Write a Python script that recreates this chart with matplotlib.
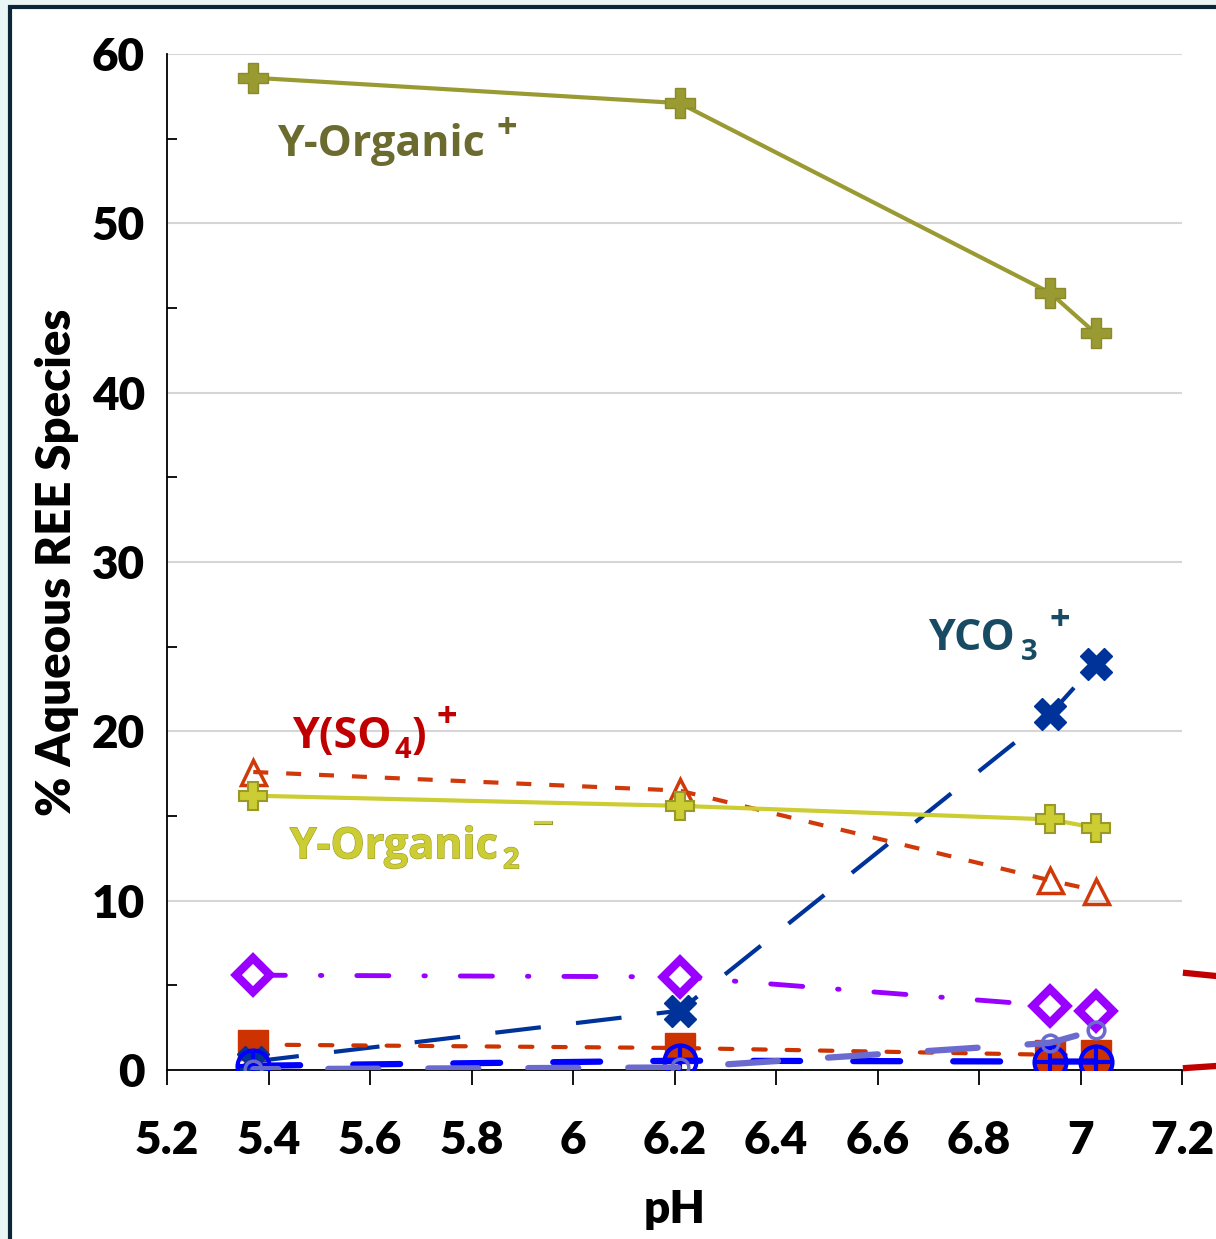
import numpy as np
import matplotlib.pyplot as plt
import matplotlib.patheffects as pe
from matplotlib.lines import Line2D
from matplotlib.patches import Rectangle
from matplotlib.ticker import FixedLocator

## Dati
ph = [5.37, 6.21, 6.94, 7.03]
y_org1 = [58.6, 57.1, 45.9, 43.5]      # Y-Organic+
y_org2 = [16.2, 15.6, 14.8, 14.3]      # Y-Organic2-
y_so4 = [17.6, 16.5, 11.2, 10.6]       # Y(SO4)+
y_co3 = [0.5, 3.5, 21.0, 24.0]         # YCO3+
y_diam = [5.6, 5.5, 3.8, 3.5]
y_sq = [1.5, 1.3, 0.9, 0.9]
y_blue = [0.25, 0.55, 0.5, 0.5]
y_slate = [0.05, 0.15, 1.6, 2.35]

xticks = [5.2, 5.4, 5.6, 5.8, 6.0, 6.2, 6.4, 6.6, 6.8, 7.0, 7.2]
xticklabels = ['5.2', '5.4', '5.6', '5.8', '6', '6.2', '6.4', '6.6', '6.8', '7', '7.2']
yticks = [0, 10, 20, 30, 40, 50, 60]

FONT = 'Lato'
FW = 800
LBL = 'Open Sans'

fig = plt.figure(figsize=(12.16, 12.39), dpi=100, facecolor='#EAF6F6')
W, H = 1216, 1239
# cornice
fig.add_artist(Rectangle((10 / W, -0.05), 1.2, (H - 7) / H + 0.05, transform=fig.transFigure,
                         facecolor='white', edgecolor='#0D2538', lw=3, zorder=0))

ax = fig.add_axes([167 / W, 1 - 1070 / H, (1182 - 167) / W, (1070 - 54) / H])
ax.set_facecolor('none')
ax.set_xlim(5.2, 7.2)
ax.set_ylim(0, 60)

for s in ['top', 'right']:
    ax.spines[s].set_visible(False)
for s in ['left', 'bottom']:
    ax.spines[s].set_linewidth(1.3)
ax.set_axisbelow(True)
ax.yaxis.grid(True, color='#D6D6D6', lw=1.5)

ax.set_xticks(xticks)
ax.set_xticklabels(xticklabels, fontsize=33, fontweight=FW, family=FONT)
ax.set_yticks(yticks)
ax.set_yticklabels([str(v) for v in yticks], fontsize=33, fontweight=FW, family=FONT)
ax.yaxis.set_minor_locator(FixedLocator([5, 15, 25, 35, 45, 55]))
ax.tick_params(axis='x', direction='out', length=11, width=1.3, pad=25)
ax.tick_params(axis='y', which='major', length=0, pad=16)
ax.tick_params(axis='y', which='minor', direction='in', length=7, width=1.3)
ax.set_xlabel('pH', fontsize=33, fontweight=FW, family=FONT, labelpad=20)
ax.set_ylabel('% Aqueous REE Species', fontsize=34, fontweight=FW, family=FONT, labelpad=9)

# serie
ax.plot(ph, y_org1, '-', color='#9A9A33', lw=3, marker='P', ms=22,
        mfc='#9A9A33', mec='#8A8A2A', zorder=5)
ax.plot(ph, y_org2, '-', color='#CCCC33', lw=3, marker='P', ms=20,
        mfc='#CCCC33', mec='#99992A', mew=1.5, zorder=5)
ax.plot(ph, y_so4, color='#D03A0A', lw=3, ls=(0, (3.6, 4.3)), marker='^', ms=18,
        mfc='none', mec='#D03A0A', mew=2.5, zorder=4)
ax.plot(ph, y_co3, color='#003399', lw=3, ls=(0, (11, 8.5)), zorder=4)
ax.plot(ph, y_co3, 'X', ms=23, color='#003399', zorder=6)
ax.plot(ph, y_diam, color='#9900FF', lw=3.5, ls=(0, (6.6, 7.2, 0.3, 7.2)), dash_capstyle='round',
        marker='D', ms=17, mfc='white', mec='#9900FF', mew=6, zorder=4)
ax.plot(ph, y_sq, color='#CC3300', lw=3, ls=(0, (3, 5)), dash_capstyle='round',
        marker='s', ms=21, mfc='#CC3300', mec='#CC3300', zorder=4)
ax.plot(ph, y_blue, color='#0000FF', lw=4.5, ls=(0, (7.5, 8.5)), dash_capstyle='round', zorder=5)
ax.plot(ph, y_blue, 'o', ms=23, mfc='none', mec='#0000FF', mew=3, zorder=6)
ax.plot(ph, y_blue, '+', ms=23, mec='#0000FF', mew=3, zorder=6)
ax.plot(ph, y_slate, color='#6A6ACF', lw=4.5, ls=(4, (8, 8)), dash_capstyle='round', marker='o', ms=12,
        mfc='none', mec='#6A6ACF', mew=2.5, zorder=7)

# etichette
kw = dict(fontsize=31, fontweight='bold', family=LBL, va='baseline', ha='left')
sub = dict(fontsize=21, fontweight='bold', family=LBL, va='baseline', ha='left')
sup = dict(fontsize=26, fontweight='bold', family=LBL, va='center', ha='center')
edge = [pe.withStroke(linewidth=0.8, foreground='#9A9A30')]

ax.text(5.417, 54.0, 'Y-Organic', color='#6B6B2F', **kw)
ax.text(5.870, 55.6, '+', color='#6B6B2F', **sup)

ax.text(5.446, 19.0, 'Y(SO', color='#C00000', **kw)
ax.text(5.649, 18.4, '4', color='#C00000', **sub)
ax.text(5.683, 19.0, ')', color='#C00000', **kw)
ax.text(5.752, 20.8, '+', color='#C00000', **sup)

ax.text(5.442, 12.5, 'Y-Organic', color='#CCCC33', path_effects=edge, **kw)
ax.text(5.862, 11.9, '2', color='#CCCC33', path_effects=edge, **sub)
ax.text(5.941, 14.4, '\u2212', color='#CCCC33', path_effects=edge, **sup)

ax.text(6.700, 24.8, 'YCO', color='#174B63', **kw)
ax.text(6.882, 24.2, '3', color='#174B63', **sub)
ax.text(6.960, 26.5, '+', color='#174B63', **sup)

# residuo di forma rossa fuori dall'area
for yy in [(973, 976), (1068, 1066)]:
    fig.add_artist(Line2D([1186 / W, 1.0], [1 - yy[0] / H, 1 - yy[1] / H], transform=fig.transFigure,
                          color='#C00000', lw=4.5))

fig.savefig('out.png', dpi=100, facecolor=fig.get_facecolor())
